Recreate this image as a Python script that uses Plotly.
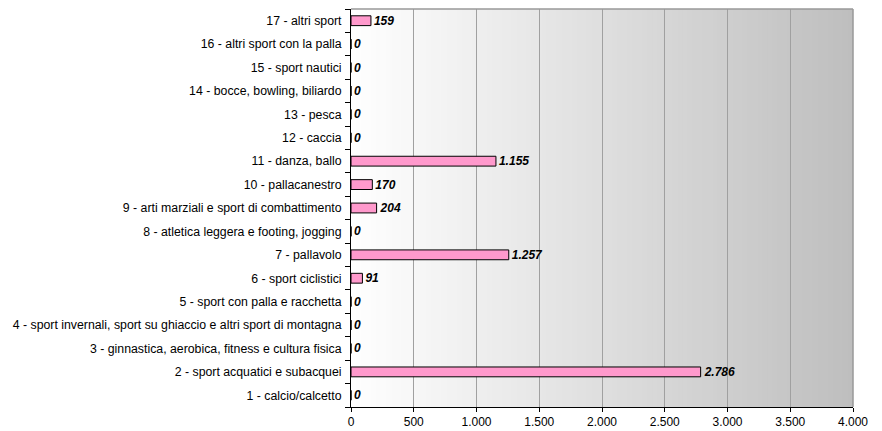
import plotly.graph_objects as go

# Sports categories (bottom to top) and number of participants
categories = [
    "1 - calcio/calcetto",
    "2 - sport acquatici e subacquei",
    "3 - ginnastica, aerobica, fitness e cultura fisica",
    "4 - sport invernali, sport su ghiaccio e altri sport di montagna",
    "5 - sport con palla e racchetta",
    "6 - sport ciclistici",
    "7 - pallavolo",
    "8 - atletica leggera e footing, jogging",
    "9 - arti marziali e sport di combattimento",
    "10 - pallacanestro",
    "11 - danza, ballo",
    "12 - caccia",
    "13 - pesca",
    "14 - bocce, bowling, biliardo",
    "15 - sport nautici",
    "16 - altri sport con la palla",
    "17 - altri sport",
]
values = [0, 2786, 0, 0, 0, 91, 1257, 0, 204, 170, 1155, 0, 0, 0, 0, 0, 159]
x_ticks = [0, 500, 1000, 1500, 2000, 2500, 3000, 3500, 4000]
x_max = 4000

FONT = "Arial, Liberation Sans, sans-serif"

fig = go.Figure()
fig.add_trace(go.Bar(
    x=values,
    y=categories,
    orientation="h",
    width=0.42,
    marker=dict(color="#ff99cc", line=dict(color="#000000", width=1)),
    texttemplate="%{x:,}",
    textposition="outside",
    constraintext="none",
    textfont=dict(family=FONT, size=12, color="#000000", weight="bold", style="italic"),
    cliponaxis=False,
    hoverinfo="skip",
))

# Horizontal white-to-grey gradient behind the plot area;
# each strip overlaps the next one so no seams show through
shapes = []
n_steps = 100
step = x_max / n_steps
for i in range(n_steps):
    t = (i + 0.5) / n_steps
    g = round(255 - t * (255 - 190))
    x0 = i * step
    x1 = min(x_max, x0 + step * 3)
    shapes.append(dict(
        type="rect", layer="below",
        xref="x", yref="y domain",
        x0=x0, x1=x1, y0=0, y1=1,
        fillcolor=f"rgb({g},{g},{g})", line=dict(width=0),
    ))
# Grey frame on top and right
shapes.append(dict(type="line", xref="x domain", yref="y domain",
                   x0=0, x1=1, y0=1, y1=1, line=dict(color="#999999", width=1.5)))
shapes.append(dict(type="line", xref="x domain", yref="y domain",
                   x0=1, x1=1, y0=0, y1=1, line=dict(color="#999999", width=1.5)))

fig.update_layout(
    width=882, height=431,
    margin=dict(l=351, r=29, t=9, b=24),
    paper_bgcolor="#ffffff",
    plot_bgcolor="#ffffff",
    separators=",.",
    showlegend=False,
    shapes=shapes,
    font=dict(family=FONT, size=12, color="#000000"),
    xaxis=dict(
        range=[0, x_max],
        tickvals=x_ticks,
        tickformat=",",
        showgrid=True, gridcolor="#a0a0a0", gridwidth=1,
        zeroline=False,
        showline=True, linecolor="#000000", linewidth=1,
        ticks="outside", ticklen=4, tickcolor="#000000",
        tickfont=dict(family=FONT, size=12, color="#000000"),
        automargin=False,
        fixedrange=True,
    ),
    yaxis=dict(
        type="category",
        categoryorder="array", categoryarray=categories,
        showgrid=False, zeroline=False,
        showline=True, linecolor="#000000", linewidth=1,
        ticks="outside", ticklen=5, tickcolor="#000000",
        tickson="boundaries",
        ticklabelstandoff=6,
        tickfont=dict(family=FONT, size=12.3, color="#000000"),
        automargin=False,
        fixedrange=True,
    ),
)

fig.write_html("out.html")
